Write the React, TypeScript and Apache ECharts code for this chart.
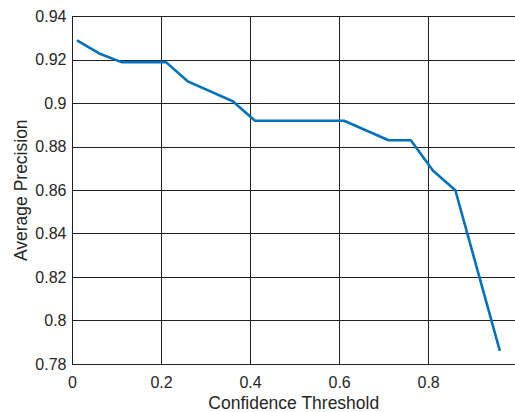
import React, { useEffect, useRef } from "react";
import * as echarts from "echarts";

const thresholds = [0.01, 0.06, 0.11, 0.21, 0.26, 0.36, 0.41, 0.61, 0.71, 0.76, 0.81, 0.86, 0.96];
const precision = [0.929, 0.923, 0.919, 0.919, 0.910, 0.901, 0.892, 0.892, 0.883, 0.883, 0.869, 0.860, 0.786];
const xTicks = [0, 0.2, 0.4, 0.6, 0.8];
const yTicks = [0.78, 0.8, 0.82, 0.84, 0.86, 0.88, 0.9, 0.92, 0.94];

export default function App() {
  const ref = useRef<HTMLDivElement>(null);
  useEffect(() => {
    if (!ref.current) return;
    const chart = echarts.init(ref.current, undefined, { renderer: "svg" });
    const font = "Liberation Sans, Arial, Helvetica, sans-serif";
    const gridLine = { show: true, lineStyle: { color: "#222222", width: 1 } };
    chart.setOption({
      animation: false,
      backgroundColor: "#ffffff",
      grid: { left: 72.5, top: 16.5, right: 0, bottom: 48, containLabel: false, outerBoundsMode: "none" },
      xAxis: {
        type: "value",
        min: xTicks[0],
        max: 0.994,
        interval: 0.2,
        name: "Confidence Threshold",
        nameLocation: "middle",
        nameGap: 30,
        nameMoveOverlap: false,
        nameTextStyle: { fontFamily: font, fontSize: 17.5, color: "#262626" },
        axisLine: { show: true, onZero: false, lineStyle: { color: "#222222", width: 1 } },
        axisTick: { show: false },
        splitLine: gridLine,
        axisLabel: {
          fontFamily: font,
          fontSize: 16,
          color: "#262626",
          margin: 10,
          showMaxLabel: false,
          formatter: (v: number) => (xTicks.some((t) => Math.abs(t - v) < 1e-6) ? String(parseFloat(v.toFixed(2))) : ""),
        },
      },
      yAxis: {
        type: "value",
        min: yTicks[0],
        max: yTicks[yTicks.length - 1],
        interval: 0.02,
        name: "Average Precision",
        nameLocation: "middle",
        nameGap: 43,
        nameMoveOverlap: false,
        nameTextStyle: { fontFamily: font, fontSize: 17.5, color: "#262626" },
        axisLine: { show: true, lineStyle: { color: "#222222", width: 1 } },
        axisTick: { show: false },
        splitLine: gridLine,
        axisLabel: {
          fontFamily: font,
          fontSize: 16,
          color: "#262626",
          margin: 6,
          formatter: (v: number) => String(parseFloat(v.toFixed(2))),
        },
      },
      series: [
        {
          type: "line",
          data: thresholds.map((t, i) => [t, precision[i]]),
          showSymbol: false,
          lineStyle: { color: "#0072BD", width: 2.6 },
          itemStyle: { color: "#0072BD" },
        },
      ],
    });
    return () => chart.dispose();
  }, []);
  return <div ref={ref} style={{ width: 515, height: 412, position: "absolute", left: 0, top: 0 }} />;
}
